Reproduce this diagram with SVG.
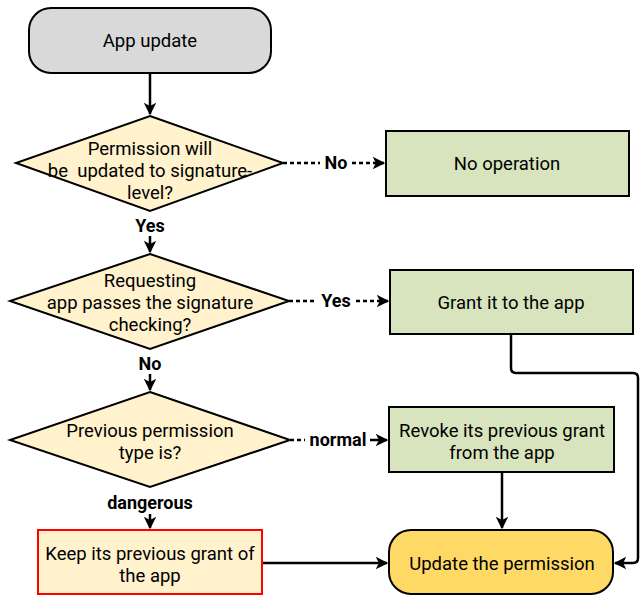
<svg xmlns="http://www.w3.org/2000/svg" width="640" height="596" viewBox="0 0 640 596">
<style>
.n{stroke:#000;stroke-width:2}
.t{font-family:Roboto,"Liberation Sans",sans-serif;font-size:18.5px;fill:#000;text-anchor:middle}
.l{font-family:Roboto,"Liberation Sans",sans-serif;font-size:18px;font-weight:bold;fill:#000;text-anchor:middle}
.c{fill:none;stroke:#000;stroke-width:2.5}
.d{fill:none;stroke:#000;stroke-width:2.5;stroke-dasharray:4 3}
</style>
<defs>
<marker id="a" viewBox="0 0 10 10" refX="9" refY="5" markerWidth="5" markerHeight="5" orient="auto" markerUnits="strokeWidth">
<path d="M0,0 L10,5 L0,10 L2.5,5 Z" fill="#000"/>
</marker>
</defs>
<rect width="640" height="596" fill="#fff"/>
<g id="connectors">
<path class="c" d="M150,73 V114" marker-end="url(#a)"/>
<path class="c" d="M150,236 V252" marker-end="url(#a)"/>
<path class="c" d="M150,374 V390" marker-end="url(#a)"/>
<path class="c" d="M150,514 V528" marker-end="url(#a)"/>
<path class="d" d="M283,163 H320"/>
<path class="d" d="M352,163 H384" marker-end="url(#a)"/>
<text class="l" x="336" y="169">No</text>
<path class="d" d="M289,301 H316"/>
<path class="d" d="M356,301 H388" marker-end="url(#a)"/>
<text class="l" x="336" y="307">Yes</text>
<path class="d" d="M290,440 H305"/>
<path class="c" d="M370,440 H387" marker-end="url(#a)"/>
<text class="l" x="338" y="446">normal</text>
<path class="c" d="M511,334 V368 Q511,373 516,373 H633 Q638,373 638,378 V558 Q638,563 633,563 H615" marker-end="url(#a)"/>
<path class="c" d="M502,472 V528" marker-end="url(#a)"/>
<path class="c" d="M262,563 H387" marker-end="url(#a)"/>
<text class="l" x="150" y="232">Yes</text>
<text class="l" x="150" y="370">No</text>
<text class="l" x="150" y="509">dangerous</text>
</g>
<g id="app-update">
<rect class="n" x="29" y="8" width="242" height="65" rx="22" fill="#d9d9d9"/>
<text class="t" x="150" y="47">App update</text>
</g>
<g id="q1">
<polygon class="n" points="150,116 283,163 150,211 16,163" fill="#fff2cc"/>
<text class="t" x="150" y="155">Permission will</text>
<text class="t" x="150" y="177" xml:space="preserve">be  updated to signature-</text>
<text class="t" x="150" y="199">level?</text>
</g>
<g id="no-op">
<rect class="n" x="386" y="131" width="243" height="65" fill="#d7e4bd"/>
<text class="t" x="507" y="170">No operation</text>
</g>
<g id="q2">
<polygon class="n" points="150,254 289,301 150,349 10,301" fill="#fff2cc"/>
<text class="t" x="150" y="287">Requesting</text>
<text class="t" x="150" y="309">app passes the signature</text>
<text class="t" x="150" y="331">checking?</text>
</g>
<g id="grant">
<rect class="n" x="390" y="270" width="243" height="64" fill="#d7e4bd"/>
<text class="t" x="511" y="309">Grant it to the app</text>
</g>
<g id="q3">
<polygon class="n" points="150,392 290,440 150,487 10,440" fill="#fff2cc"/>
<text class="t" x="150" y="437">Previous permission</text>
<text class="t" x="150" y="459">type is?</text>
</g>
<g id="revoke">
<rect class="n" x="389" y="407" width="225" height="65" fill="#d7e4bd"/>
<text class="t" x="502" y="437">Revoke its previous grant</text>
<text class="t" x="502" y="459">from the app</text>
</g>
<g id="keep">
<rect x="38" y="530" width="224" height="64" fill="#fff2cc" stroke="#ff0000" stroke-width="2"/>
<text class="t" x="150" y="560">Keep its previous grant of</text>
<text class="t" x="150" y="582">the app</text>
</g>
<g id="update">
<rect class="n" x="389" y="530" width="224" height="64" rx="22" fill="#ffd966"/>
<text class="t" x="502" y="570">Update the permission</text>
</g>
</svg>
